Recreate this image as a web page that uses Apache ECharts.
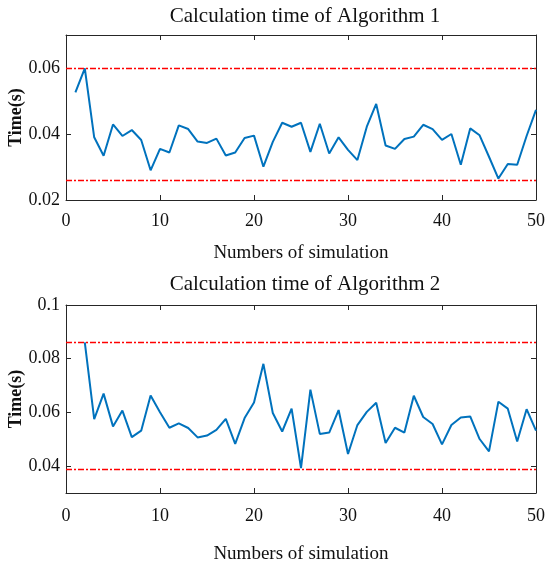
<!DOCTYPE html>
<html>
<head>
<meta charset="utf-8">
<script src="https://cdn.jsdelivr.net/npm/echarts@6/dist/echarts.min.js"></script>
<style>
html,body{margin:0;padding:0;background:#fff;}
#chart{width:545px;height:568px;}
</style>
</head>
<body>
<div id="chart"></div>
<script>
// ---- data ----
const runs = [1,2,3,4,5,6,7,8,9,10,11,12,13,14,15,16,17,18,19,20,21,22,23,24,25,26,27,28,29,30,31,32,33,34,35,36,37,38,39,40,41,42,43,44,45,46,47,48,49,50];
const timeAlg1 = [0.0526,0.0599,0.0390,0.0334,0.0429,0.0394,0.0412,0.0382,0.0290,0.0355,
                  0.0344,0.0426,0.0415,0.0377,0.0373,0.0386,0.0335,0.0344,0.0388,0.0395,
                  0.0301,0.0376,0.0434,0.0422,0.0434,0.0346,0.0431,0.0341,0.0390,0.0352,
                  0.0321,0.0422,0.0491,0.0365,0.0355,0.0385,0.0392,0.0428,0.0415,0.0382,
                  0.0400,0.0307,0.0417,0.0396,0.0331,0.0265,0.0309,0.0307,0.0394,0.0473];
const timeAlg2 = [null,0.0861,0.0575,0.0670,0.0548,0.0607,0.0508,0.0532,0.0663,0.0601,
                  0.0543,0.0559,0.0542,0.0507,0.0514,0.0535,0.0576,0.0483,0.0579,0.0637,
                  0.0781,0.0598,0.0529,0.0614,0.0393,0.0685,0.0520,0.0525,0.0609,0.0445,
                  0.0553,0.0602,0.0636,0.0486,0.0543,0.0525,0.0662,0.0583,0.0557,0.0481,
                  0.0553,0.0581,0.0585,0.0501,0.0455,0.0640,0.0614,0.0492,0.0612,0.0532];
const limitsAlg1 = [0.060, 0.0261];
const limitsAlg2 = [0.0861, 0.0390];
const xTicks = [0,10,20,30,40,50];
const yTicksAlg1 = [0.02,0.04,0.06];
const yTicksAlg2 = [0.04,0.06,0.08,0.1];
const titles = ['Calculation time of Algorithm 1','Calculation time of Algorithm 2'];
const xName = 'Numbers of simulation';
const yName = 'Time(s)';

// ---- styling ----
const FONT = '"Liberation Serif", "DejaVu Serif", serif';
const AX = '#262626';
const fmt = v => String(+(+v).toFixed(3));

function pairs(ys){ return runs.map((x,i)=>[x, ys[i]]); }

function xAx(gi, pos, showLab, nameGap, margin){
  return {
    type:'value', gridIndex:gi, position:pos, min:xTicks[0], max:xTicks[xTicks.length-1], interval:10,
    name: showLab ? xName : '', nameLocation:'middle', nameGap:nameGap, nameMoveOverlap:false,
    nameTextStyle:{fontFamily:FONT, fontSize:19, color:'#111'},
    axisLine:{show:true, onZero:false, lineStyle:{color:AX, width:1}},
    axisTick:{show:true, inside:true, length:5, lineStyle:{color:AX, width:1}},
    axisLabel:{show:showLab, margin:margin, fontFamily:FONT, fontSize:18, color:'#111', formatter:fmt},
    splitLine:{show:false}
  };
}
function yAx(gi, pos, showLab, mn, mx, ticks){
  return {
    type:'value', gridIndex:gi, position:pos, min:mn, max:mx,
    name: showLab ? yName : '', nameLocation:'middle', nameGap:41, nameMoveOverlap:false,
    nameTextStyle:{fontFamily:FONT, fontSize:18, fontWeight:'bold', color:'#111'},
    axisLine:{show:true, onZero:false, lineStyle:{color:AX, width:1}},
    axisTick:{show:true, inside:true, length:5, customValues:ticks, lineStyle:{color:AX, width:1}},
    axisLabel:{show:showLab, margin:6, customValues:ticks, fontFamily:FONT, fontSize:18, color:'#111', formatter:fmt},
    splitLine:{show:false}
  };
}
function lineSeries(xi, yi, ys, limits){
  return {
    type:'line', xAxisIndex:xi, yAxisIndex:yi, data:pairs(ys), symbol:'none', clip:true,
    lineStyle:{color:'#0072BD', width:2}, itemStyle:{color:'#0072BD'},
    connectNulls:false, silent:true,
    markLine:{
      silent:true, precision:5, symbol:['none','none'], label:{show:false},
      lineStyle:{color:'#FF0000', width:1.3, type:[6,2,2,2]},
      data: limits.map(v=>({yAxis:v}))
    }
  };
}

const option = {
  animation:false,
  backgroundColor:'#fff',
  title:[
    {text:titles[0], left:300, top:1, textAlign:'center', textStyle:{fontFamily:FONT, fontSize:21, fontWeight:'normal', color:'#111'}},
    {text:titles[1], left:300, top:269, textAlign:'center', textStyle:{fontFamily:FONT, fontSize:21, fontWeight:'normal', color:'#111'}}
  ],
  grid:[
    {left:66, right:9, top:35, height:165, containLabel:false, outerBoundsMode:'none'},
    {left:66, right:9, top:305, height:188, containLabel:false, outerBoundsMode:'none'}
  ],
  xAxis:[ xAx(0,'bottom',true,44,12), xAx(0,'top',false,0,0), xAx(1,'bottom',true,52,14), xAx(1,'top',false,0,0) ],
  yAxis:[ yAx(0,'left',true,0.02,0.07,yTicksAlg1), yAx(0,'right',false,0.02,0.07,yTicksAlg1),
          yAx(1,'left',true,0.03,0.1,yTicksAlg2), yAx(1,'right',false,0.03,0.1,yTicksAlg2) ],
  series:[ lineSeries(0,0,timeAlg1,limitsAlg1), lineSeries(2,2,timeAlg2,limitsAlg2) ]
};
const chart = echarts.init(document.getElementById('chart'), null, {renderer:'canvas'});
chart.setOption(option);
</script>
</body>
</html>
